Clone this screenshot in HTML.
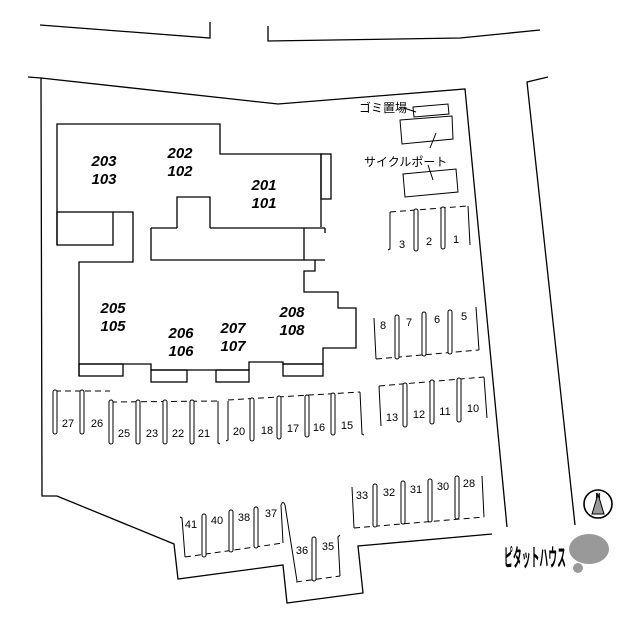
<!DOCTYPE html>
<html><head><meta charset="utf-8"><style>
html,body{margin:0;padding:0;background:#fff;}
svg{display:block;}
.l{fill:none;stroke:#000;stroke-width:1.3;}
.t{stroke-width:1;}
.d{fill:none;stroke:#000;stroke-width:1;stroke-dasharray:6,4;}
.dv{fill:#fff;stroke:#000;stroke-width:1;}
.b{font-family:"Liberation Sans",sans-serif;font-weight:bold;font-style:italic;font-size:15px;text-anchor:middle;}
.n{font-family:"Liberation Sans",sans-serif;font-size:11px;text-anchor:middle;}
.j{font-family:"Liberation Sans","Noto Sans CJK JP",sans-serif;font-size:12px;}
</style></head><body>
<svg width="640" height="622" viewBox="0 0 640 622" xmlns="http://www.w3.org/2000/svg">
<polyline class="l" points="40,25 210,38 210,22"/>
<polyline class="l" points="268,26 268,41 460,38 540,30"/>
<polyline class="l" points="548,77 527,82 575,525"/>
<polyline class="l" points="28,77 41,78 278,104 465,89 507,527"/>
<polyline class="l" points="41,78 42,496 57,496 174,544 178,579 283,565 287,603 363,593 358,546 492,534"/>
<polyline class="l" points="57,245 57,124 220,124 220,154 321,154 321,227"/>
<rect class="l" x="321" y="154" width="10" height="45"/>
<rect class="l" x="57" y="212" width="56" height="33"/>
<polyline class="l" points="113,212 133,212 133,262 79,262 79,376"/>
<polyline class="l" points="151,228 151,260 304,260 304,228"/>
<polyline class="l" points="177,228 177,197 210,197 210,228"/>
<line class="l" x1="151" y1="228" x2="177" y2="228"/>
<line class="l" x1="210" y1="228" x2="325" y2="228"/>
<line class="l" x1="325" y1="228" x2="325" y2="233"/>
<line class="l" x1="304" y1="260" x2="325" y2="260"/>
<polyline class="l" points="315,260 315,271 304,271 304,292 338,292 338,308 356,308 356,348 323,348 323,364"/>
<polyline class="l" points="79,364 151,364 151,370 249,370 249,362 283,362 283,364 323,364"/>
<rect class="l" x="79" y="364" width="44" height="12"/>
<rect class="l" x="151" y="370" width="36" height="12"/>
<rect class="l" x="216" y="370" width="33" height="12"/>
<rect class="l" x="283" y="364" width="40" height="12"/>
<text class="b" x="104" y="166">203</text><text class="b" x="104" y="184">103</text>
<text class="b" x="180" y="158">202</text><text class="b" x="180" y="176">102</text>
<text class="b" x="264" y="190">201</text><text class="b" x="264" y="208">101</text>
<text class="b" x="113" y="313">205</text><text class="b" x="113" y="331">105</text>
<text class="b" x="181" y="338">206</text><text class="b" x="181" y="356">106</text>
<text class="b" x="233" y="333">207</text><text class="b" x="233" y="351">107</text>
<text class="b" x="292" y="317">208</text><text class="b" x="292" y="335">108</text>
<text class="j" x="359" y="112">ゴミ置場</text>
<line class="l t" x1="404" y1="108" x2="416" y2="112"/>
<polygon class="l t" points="413,107 448,104 449,114 414,117"/>
<polygon class="l t" points="400,120 452,116 453,139 402,144"/>
<polygon class="l t" points="403,174 456,169 458,192 405,197"/>
<text class="j" x="364" y="166">サイクルポート</text>
<line class="l t" x1="436" y1="133" x2="430" y2="148"/>
<line class="l t" x1="428" y1="165" x2="433" y2="180"/>
<path class="d" d="M390,212 L468,206"/>
<path class="l t" d="M390,212 L390,249 L388,250 M468,206 L470,245"/>
<rect class="dv" x="414" y="209" width="4" height="42" rx="2"/>
<rect class="dv" x="441" y="207" width="4" height="42" rx="2"/>
<text class="n" x="402" y="248">3</text><text class="n" x="429" y="245">2</text><text class="n" x="456" y="243">1</text>
<path class="d" d="M376,359 L479,350"/>
<path class="l t" d="M374,318 L376,359 M479,350 L476,307"/>
<rect class="dv" x="395" y="315" width="4" height="44" rx="2"/>
<rect class="dv" x="422" y="312" width="4" height="44" rx="2"/>
<rect class="dv" x="448" y="310" width="4" height="44" rx="2"/>
<text class="n" x="383" y="329">8</text><text class="n" x="409" y="326">7</text><text class="n" x="437" y="323">6</text><text class="n" x="464" y="320">5</text>
<path class="d" d="M379,386 L484,377"/>
<path class="l t" d="M379,386 L381,426 M484,377 L487,418"/>
<rect class="dv" x="403" y="383" width="4" height="44" rx="2"/>
<rect class="dv" x="430" y="380" width="4" height="44" rx="2"/>
<rect class="dv" x="457" y="378" width="4" height="44" rx="2"/>
<text class="n" x="392" y="421">13</text><text class="n" x="419" y="418">12</text><text class="n" x="445" y="415">11</text><text class="n" x="473" y="412">10</text>
<path class="d" d="M354,528 L484,517"/>
<path class="l t" d="M352,487 L354,528 M484,517 L482,476"/>
<rect class="dv" x="373" y="484" width="4" height="43" rx="2"/>
<rect class="dv" x="401" y="481" width="4" height="43" rx="2"/>
<rect class="dv" x="428" y="479" width="4" height="43" rx="2"/>
<rect class="dv" x="455" y="476" width="4" height="43" rx="2"/>
<text class="n" x="362" y="499">33</text><text class="n" x="389" y="496">32</text><text class="n" x="416" y="493">31</text><text class="n" x="443" y="490">30</text><text class="n" x="469" y="487">28</text>
<path class="d" d="M55,391 L110,391"/>
<path class="d" d="M111,402 L218,401"/>
<path class="d" d="M228,400 L360,392"/>
<rect class="dv" x="53" y="390" width="4" height="44" rx="2"/>
<rect class="dv" x="80" y="390" width="4" height="44" rx="2"/>
<rect class="dv" x="109" y="400" width="4" height="44" rx="2"/>
<rect class="dv" x="136" y="400" width="4" height="44" rx="2"/>
<rect class="dv" x="163" y="400" width="4" height="44" rx="2"/>
<rect class="dv" x="190" y="400" width="4" height="44" rx="2"/>
<path class="l t" d="M218,401 L218,443 L220,444 M228,401 L228,440 L226,441 M360,392 L362,434 L364,435"/>
<rect class="dv" x="250" y="398" width="4" height="43" rx="2"/>
<rect class="dv" x="277" y="396" width="4" height="43" rx="2"/>
<rect class="dv" x="305" y="395" width="4" height="42" rx="2"/>
<rect class="dv" x="331" y="393" width="4" height="42" rx="2"/>
<text class="n" x="68" y="427">27</text><text class="n" x="97" y="427">26</text>
<text class="n" x="124" y="437">25</text><text class="n" x="152" y="437">23</text><text class="n" x="178" y="437">22</text><text class="n" x="204" y="437">21</text>
<text class="n" x="239" y="435">20</text><text class="n" x="267" y="434">18</text><text class="n" x="293" y="432">17</text><text class="n" x="319" y="431">16</text><text class="n" x="347" y="429">15</text>
<path class="d" d="M185,557 L283,543"/>
<path class="l t" d="M180,517 L182,518 L185,557"/>
<rect class="dv" x="202" y="514" width="4" height="43" rx="2"/>
<rect class="dv" x="229" y="510" width="4" height="42" rx="2"/>
<rect class="dv" x="254" y="507" width="4" height="41" rx="2"/>
<path class="l t" d="M281,505 Q283,500 285,505 L297,581 M281,505 L283,543"/>
<path class="d" d="M296,582 L340,576"/>
<path class="l t" d="M340,576 L338,537 L340,535"/>
<rect class="dv" x="312" y="537" width="4" height="44" rx="2"/>
<text class="n" x="191" y="528">41</text><text class="n" x="217" y="524">40</text><text class="n" x="244" y="521">38</text><text class="n" x="271" y="517">37</text>
<text class="n" x="302" y="554">36</text><text class="n" x="328" y="550">35</text>
<circle cx="598" cy="504" r="14" fill="#fff" stroke="#000" stroke-width="1.6"/>
<polygon points="598,494 592,514 604,514" fill="#999" stroke="#000" stroke-width="1"/>
<text x="598" y="498" font-family="Liberation Sans,sans-serif" font-size="7" font-weight="bold" text-anchor="middle">N</text>
<text x="535" y="566" font-family="'Liberation Sans','Noto Sans CJK JP',sans-serif" font-size="24" font-weight="bold" text-anchor="middle" textLength="62" lengthAdjust="spacingAndGlyphs">ピタットハウス</text>
<ellipse cx="589" cy="549" rx="20" ry="15" fill="#999"/>
<circle cx="578" cy="568" r="5" fill="#999"/>
</svg>
</body></html>
